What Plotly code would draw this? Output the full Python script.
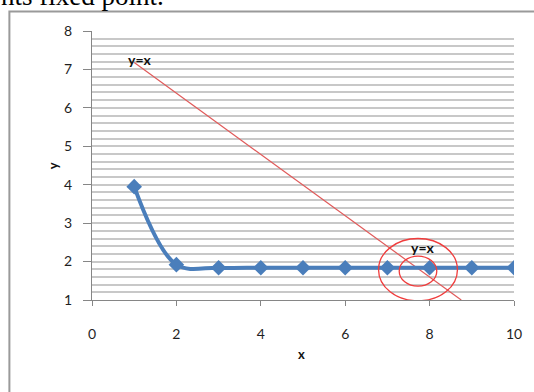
import plotly.graph_objects as go

# ---- data ----
x_vals = [1, 2, 3, 4, 5, 6, 7, 8, 9, 10]
y_vals = [3.95, 1.92, 1.84, 1.84, 1.84, 1.84, 1.84, 1.84, 1.84, 1.84]

diag_x = [1.0, 8.75]
diag_y = [7.18, 1.0]

outer_ellipse = [6.79, 0.98, 8.66, 2.60]   # x0, y0, x1, y1
inner_ellipse = [7.28, 1.36, 8.17, 2.14]

label_text = ["y=x", "y=x"]
label_x = [1.14, 7.85]
label_y = [7.27, 2.36]

x_ticks = [0, 2, 4, 6, 8, 10]
y_ticks = [1, 2, 3, 4, 5, 6, 7, 8]

W, H = 534, 392
L, R, T, B = 92, 18, 31, 92
pw, ph = W - L - R, H - T - B

def px_to_paper_x(px):
    return (px - L) / pw

def px_to_paper_y(py):
    return (H - B - py) / ph

fig = go.Figure()

fig.add_trace(go.Scatter(
    x=diag_x, y=diag_y, mode="lines",
    line=dict(color="#e05a5a", width=1.2),
    showlegend=False, hoverinfo="skip"))

fig.add_trace(go.Scatter(
    x=x_vals, y=y_vals, mode="lines+markers",
    line=dict(color="#4a7ebb", width=4, shape="spline", smoothing=1),
    marker=dict(symbol="diamond", size=12, color="#4a7ebb"),
    showlegend=False))

for e in (outer_ellipse, inner_ellipse):
    fig.add_shape(type="circle", xref="x", yref="y",
                  x0=e[0], y0=e[1], x1=e[2], y1=e[3],
                  line=dict(color="#f03c3c", width=1.3))

for t, lx, ly in zip(label_text, label_x, label_y):
    fig.add_annotation(x=lx, y=ly, xref="x", yref="y", text="<b>%s</b>" % t,
                       showarrow=False, font=dict(family="Lato", size=14, color="#111111"))

# outer chart border
fig.add_shape(type="rect", xref="paper", yref="paper",
              x0=px_to_paper_x(9), x1=px_to_paper_x(560),
              y0=px_to_paper_y(420), y1=px_to_paper_y(11.5),
              line=dict(color="#9a9a9a", width=2), layer="below")

# clipped caption from the surrounding document
fig.add_annotation(xref="paper", yref="paper", x=px_to_paper_x(166), y=px_to_paper_y(13),
                   xanchor="right", yanchor="bottom", text="nts fixed point.",
                   showarrow=False, font=dict(family="Liberation Serif", size=27, color="#000000"))

# axis titles
fig.add_annotation(xref="paper", yref="paper", x=px_to_paper_x(302), y=px_to_paper_y(364),
                   text="<b>x</b>", showarrow=False,
                   font=dict(family="Lato", size=13, color="#111111"))
fig.add_annotation(xref="paper", yref="paper", x=px_to_paper_x(43), y=px_to_paper_y(166),
                   text="<b>y</b>", showarrow=False, textangle=-90,
                   font=dict(family="Lato", size=13, color="#111111"))

tickfont = dict(family="Lato", size=14, color="#1f1f1f")

fig.update_xaxes(range=[0, 10], tickvals=x_ticks, ticktext=[str(v) for v in x_ticks],
                 showgrid=False, zeroline=False, showline=True, linecolor="#868686", linewidth=1,
                 ticks="outside", ticklen=5, tickcolor="#868686", tickfont=tickfont,
                 ticklabelstandoff=16)
fig.update_yaxes(range=[1, 8], tickvals=y_ticks, ticktext=[str(v) for v in y_ticks],
                 showgrid=False, zeroline=False, showline=True, linecolor="#868686", linewidth=1,
                 ticks="outside", ticklen=8, tickcolor="#868686", tickfont=tickfont,
                 ticklabelstandoff=8,
                 minor=dict(dtick=0.2, tick0=1, showgrid=True, gridcolor="#c8c8c8", gridwidth=1.5,
                            ticks=""))

fig.update_layout(width=W, height=H, margin=dict(l=L, r=R, t=T, b=B, pad=0),
                  plot_bgcolor="white", paper_bgcolor="white")

fig.write_html("out.html")
